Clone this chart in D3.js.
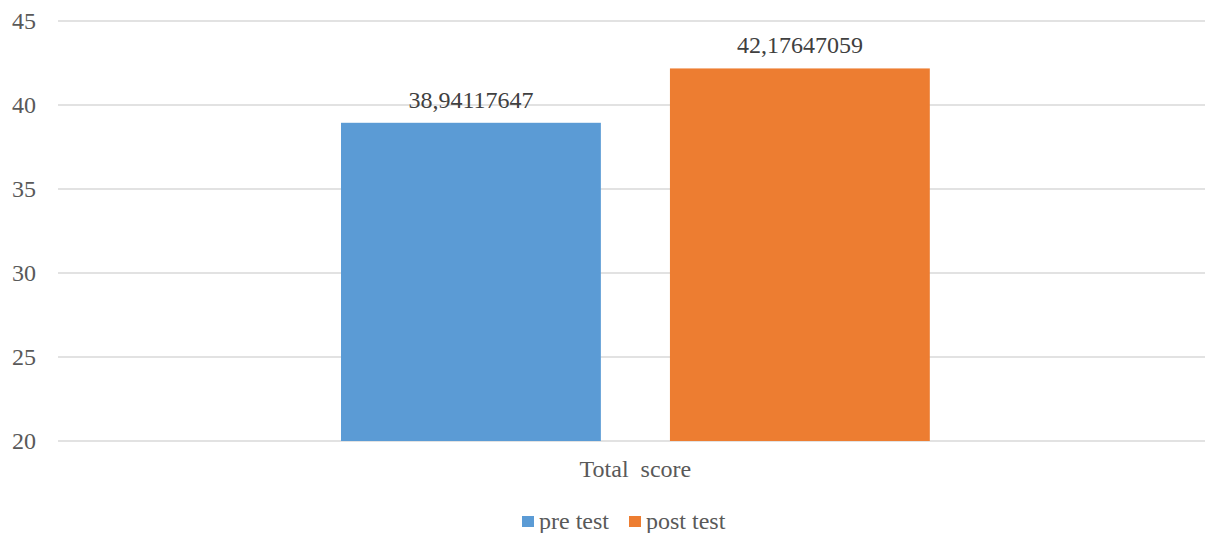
<!DOCTYPE html>
<html>
<head>
<meta charset="utf-8">
<script src="https://cdn.jsdelivr.net/npm/d3@7"></script>
<style>
  html, body { margin: 0; padding: 0; background: #fff; }
  svg { display: block; }
</style>
</head>
<body>
<svg id="chart" width="1206" height="533"></svg>
<script>
// Mean total score before and after the intervention
const categories = ["Total  score"];
const seriesNames = ["pre test", "post test"];
const preTest = [38.94117647];
const postTest = [42.17647059];
const valueLabels = [["38,94117647"], ["42,17647059"]];
const yTicks = [20, 25, 30, 35, 40, 45];
const colors = ["#5B9BD5", "#ED7D31"];

const svg = d3.select("#chart");
const W = 1206, H = 533;
const margin = { top: 21, right: 1, bottom: 92, left: 58 };
const innerW = W - margin.left - margin.right;
const innerH = H - margin.top - margin.bottom;
const FONT = '"Liberation Serif"';
const FS = "24px";
const textColor = "#595959";

const g = svg.append("g").attr("transform", `translate(${margin.left},${margin.top})`);

const y = d3.scaleLinear().domain([20, 45]).range([innerH, 0]);
const x0 = d3.scaleBand().domain(categories).range([0, innerW])
  .paddingInner(0).paddingOuter(0.474).align(0.507);
const x1 = d3.scaleBand().domain(seriesNames).range([0, x0.bandwidth()]).paddingInner(0.21);

// horizontal gridlines
g.append("g")
  .selectAll("line")
  .data(yTicks)
  .join("line")
  .attr("x1", 0).attr("x2", innerW)
  .attr("y1", d => y(d)).attr("y2", d => y(d))
  .attr("stroke", "#D9D9D9")
  .attr("stroke-width", 1.3);

// y axis labels
const yAxis = d3.axisLeft(y).tickValues(yTicks).tickSize(0).tickPadding(22);
const ya = g.append("g").call(yAxis);
ya.select(".domain").remove();
ya.selectAll("text")
  .style("font-family", FONT)
  .style("font-size", FS)
  .attr("fill", textColor)
  .attr("dy", "0.32em");

const data = categories.map((c, i) => ({
  category: c,
  values: [preTest[i], postTest[i]],
  labels: [valueLabels[0][i], valueLabels[1][i]]
}));

const groups = g.selectAll(".cat")
  .data(data)
  .join("g")
  .attr("transform", d => `translate(${x0(d.category)},0)`);

groups.selectAll("rect")
  .data(d => d.values.map((v, k) => ({ name: seriesNames[k], value: v, k })))
  .join("rect")
  .attr("x", d => x1(d.name))
  .attr("width", x1.bandwidth())
  .attr("y", d => y(d.value))
  .attr("height", d => y(20) - y(d.value))
  .attr("fill", d => colors[d.k]);

// value labels above each bar
groups.selectAll("text.val")
  .data(d => d.values.map((v, k) => ({ name: seriesNames[k], value: v, label: d.labels[k] })))
  .join("text")
  .attr("class", "val")
  .attr("x", d => x1(d.name) + x1.bandwidth() / 2)
  .attr("y", d => y(d.value) - 15)
  .attr("text-anchor", "middle")
  .style("font-family", FONT)
  .style("font-size", FS)
  .attr("fill", "#404040")
  .text(d => d.label);

// category axis label
const xAxis = d3.axisBottom(x0).tickSize(0).tickPadding(19);
const xa = g.append("g").attr("transform", `translate(0,${innerH})`).call(xAxis);
xa.select(".domain").remove();
xa.selectAll("text")
  .style("font-family", FONT)
  .style("font-size", FS)
  .style("white-space", "pre")
  .attr("fill", textColor);

// legend
const legend = svg.append("g").attr("transform", `translate(522,521)`);
const items = [{ name: seriesNames[0], x: 0 }, { name: seriesNames[1], x: 107 }];
items.forEach((it, i) => {
  legend.append("rect")
    .attr("x", it.x).attr("y", -5)
    .attr("width", 12).attr("height", 11)
    .attr("fill", colors[i]);
  legend.append("text")
    .attr("x", it.x + 17).attr("y", 8)
    .style("font-family", FONT)
    .style("font-size", FS)
    .attr("fill", textColor)
    .text(it.name);
});
</script>
</body>
</html>
